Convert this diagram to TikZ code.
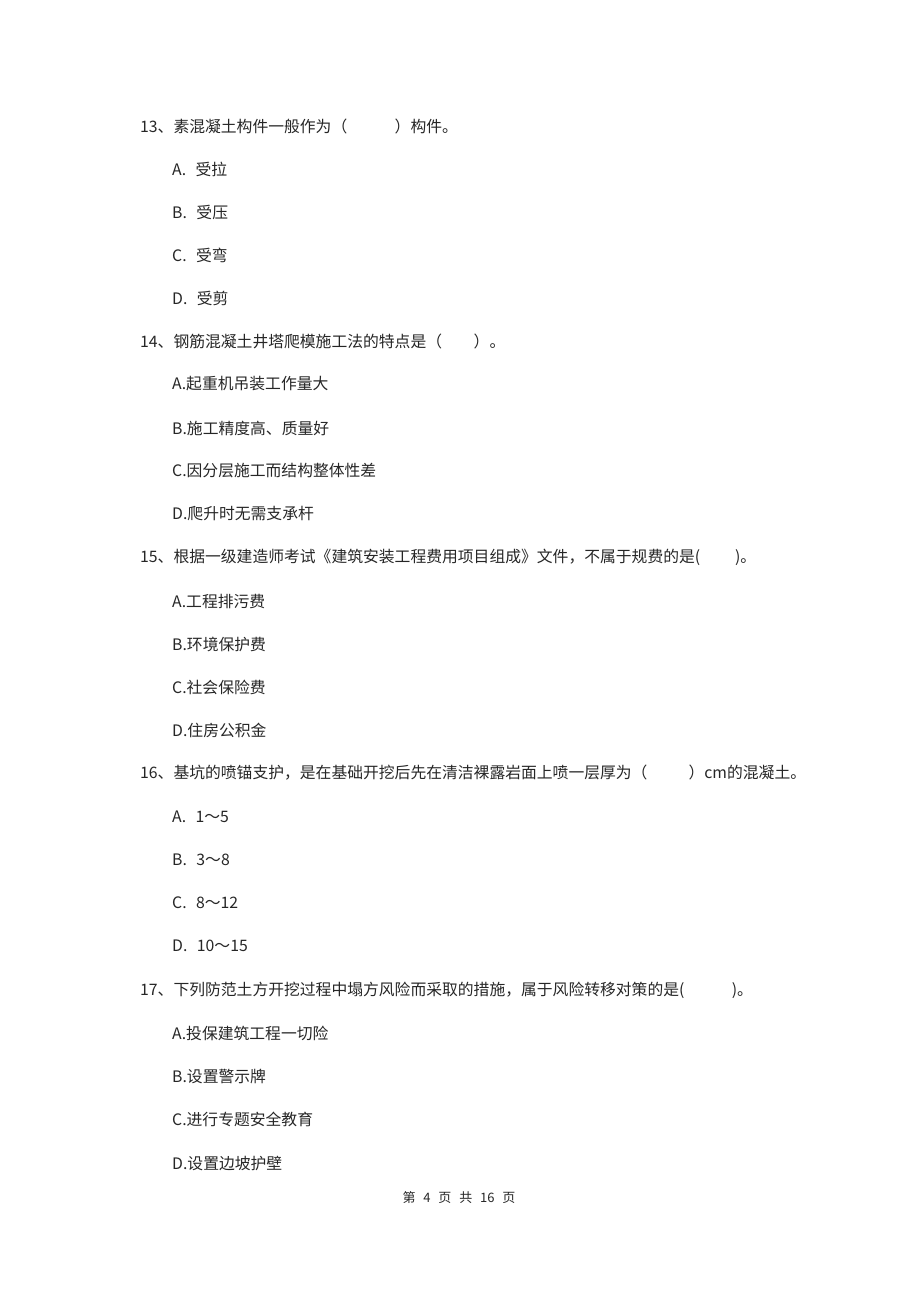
\documentclass[tikz,border=0pt]{standalone}
\usepackage{fontspec}
\setmainfont{Noto Sans CJK SC}
\tikzset{
  ques/.style={anchor=west, inner sep=0pt, text=black!85, font=\fontsize{15.8}{15.8}\selectfont},
  opt/.style={ques},
  foot/.style={inner sep=0pt, text=black!85, font=\fontsize{13}{13}\selectfont}
}
\begin{document}
\begin{tikzpicture}[x=1pt, y=-1pt]
  \useasboundingbox (0,0) rectangle (920,1302);
  % question 13
  \node[ques] (q13) at (140,126) {13、素混凝土构件一般作为（\hspace{3em}）构件。};
  \node[opt] (q13a) at (172,169) {A.\hspace{0.6em}受拉};
  \node[opt] (q13b) at (172,212) {B.\hspace{0.6em}受压};
  \node[opt] (q13c) at (172,255) {C.\hspace{0.6em}受弯};
  \node[opt] (q13d) at (172,298) {D.\hspace{0.6em}受剪};
  % question 14
  \node[ques] (q14) at (140,341) {14、钢筋混凝土井塔爬模施工法的特点是（\hspace{2em}）。};
  \node[opt] (q14a) at (172,384) {A.起重机吊装工作量大};
  \node[opt] (q14b) at (172,428) {B.施工精度高、质量好};
  \node[opt] (q14c) at (172,471) {C.因分层施工而结构整体性差};
  \node[opt] (q14d) at (172,514) {D.爬升时无需支承杆};
  % question 15
  \node[ques] (q15) at (140,557) {15、根据一级建造师考试《建筑安装工程费用项目组成》文件，不属于规费的是(\hspace{2.2em})。};
  \node[opt] (q15a) at (172,601) {A.工程排污费};
  \node[opt] (q15b) at (172,644) {B.环境保护费};
  \node[opt] (q15c) at (172,687) {C.社会保险费};
  \node[opt] (q15d) at (172,730) {D.住房公积金};
  % question 16
  \node[ques] (q16) at (140,773) {16、基坑的喷锚支护，是在基础开挖后先在清洁裸露岩面上喷一层厚为（\hspace{2.6em}）cm的混凝土。};
  \node[opt] (q16a) at (172,817) {A.\hspace{0.6em}1～5};
  \node[opt] (q16b) at (172,860) {B.\hspace{0.6em}3～8};
  \node[opt] (q16c) at (172,903) {C.\hspace{0.6em}8～12};
  \node[opt] (q16d) at (172,946) {D.\hspace{0.6em}10～15};
  % question 17
  \node[ques] (q17) at (140,990) {17、下列防范土方开挖过程中塌方风险而采取的措施，属于风险转移对策的是(\hspace{3em})。};
  \node[opt] (q17a) at (172,1033) {A.投保建筑工程一切险};
  \node[opt] (q17b) at (172,1076) {B.设置警示牌};
  \node[opt] (q17c) at (172,1119) {C.进行专题安全教育};
  \node[opt] (q17d) at (172,1163) {D.设置边坡护壁};
  % page footer
  \node[foot] (pageno) at (459,1198) {第\hspace{0.6em}4\hspace{0.6em}页\hspace{0.6em}共\hspace{0.6em}16\hspace{0.6em}页};
\end{tikzpicture}
\end{document}
